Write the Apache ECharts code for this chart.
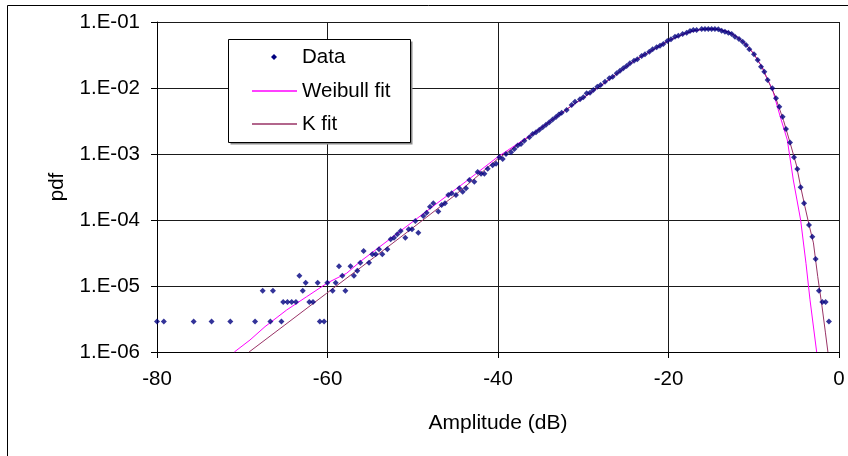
<!DOCTYPE html>
<html>
<head>
<meta charset="utf-8">
<script src="https://cdn.jsdelivr.net/npm/echarts@6/dist/echarts.min.js"></script>
<style>html,body{margin:0;padding:0;background:#fff}#c{width:848px;height:456px}</style>
</head>
<body>
<div id="c"></div>
<script>
// ---- data ----
const dataDb = [-80.0,-79.2,-75.7,-73.6,-71.4,-68.5,-67.6,-66.7,-66.4,-65.4,-65.2,-64.7,-64.2,-63.7,-63.3,-62.9,-62.56,-62.13,-61.7,-61.15,-60.9,-60.4,-60.02,-59.4,-59.04,-58.65,-58.26,-57.9,-57.3,-56.9,-56.5,-56.15,-55.76,-55.13,-54.74,-54.35,-53.96,-53.57,-52.98,-52.59,-52.2,-51.81,-51.42,-50.87,-50.48,-50.09,-49.7,-49.35,-48.76,-48.37,-47.98,-47.59,-47.0,-46.61,-46.22,-45.83,-45.43,-44.93,-44.54,-44.14,-43.75,-43.36,-42.78,-42.38,-41.99,-41.6,-41.21,-40.63,-40.23,-39.84,-39.45,-39.06,-38.47,-38.08,-37.69,-37.3,-36.91,-36.32,-35.93,-35.54,-35.15,-34.76,-34.37,-33.98,-33.59,-33.2,-32.85,-32.53,-31.95,-31.36,-30.97,-30.38,-29.99,-29.6,-29.21,-28.82,-28.35,-27.96,-27.45,-26.94,-26.55,-26.08,-25.69,-25.3,-24.91,-24.52,-24.05,-23.66,-23.15,-22.76,-22.25,-21.86,-21.39,-21.0,-20.61,-20.14,-19.71,-19.24,-18.85,-18.34,-17.87,-17.48,-17.09,-16.7,-16.11,-15.72,-15.33,-14.94,-14.55,-14.16,-13.77,-13.38,-12.98,-12.59,-12.2,-11.73,-11.3,-10.91,-10.52,-9.97,-9.54,-9.15,-8.76,-8.37,-7.82,-7.39,-7.0,-6.61,-6.22,-5.75,-5.28,-4.89,-4.5,-4.1,-3.52,-3.13,-2.74,-2.35,-1.96,-1.57,-1.18];
const dataPdf = [2.9e-6,2.9e-6,2.9e-6,2.9e-6,2.9e-6,2.9e-6,8.5e-6,2.9e-6,8.5e-6,2.9e-6,5.7e-6,5.7e-6,5.7e-6,5.7e-6,1.43e-5,8.5e-6,1.12e-5,5.7e-6,5.7e-6,1.12e-5,2.9e-6,2.9e-6,1.12e-5,8.5e-6,1.12e-5,2.0e-5,1.43e-5,8.5e-6,2.0e-5,1.43e-5,1.7e-5,2.26e-5,3.39e-5,2.26e-5,3.02e-5,3.02e-5,3.6e-5,3.02e-5,3.6e-5,5.09e-5,5.4e-5,6.07e-5,6.8e-5,5.4e-5,7.22e-5,7.22e-5,9.66e-5,6.43e-5,1.15e-4,1.29e-4,1.59e-4,1.79e-4,1.34e-4,1.69e-4,1.79e-4,2.39e-4,2.54e-4,2.39e-4,3.02e-4,2.69e-4,3.02e-4,4.04e-4,3.81e-4,5.34e-4,5.04e-4,5.04e-4,6.0e-4,6.73e-4,7.14e-4,8.9e-4,8.4e-4,1.0e-3,1.06e-3,1.19e-3,1.34e-3,1.42e-3,1.59e-3,1.79e-3,2.01e-3,2.13e-3,2.33e-3,2.54e-3,2.78e-3,3.03e-3,3.32e-3,3.63e-3,3.96e-3,4.23e-3,4.65e-3,5.53e-3,6.21e-3,6.73e-3,7.23e-3,8.3e-3,8.49e-3,9.33e-3,1.047e-2,1.11e-2,1.247e-2,1.403e-2,1.486e-2,1.667e-2,1.832e-2,1.986e-2,2.158e-2,2.366e-2,2.594e-2,2.723e-2,3.055e-2,3.236e-2,3.556e-2,3.855e-2,4.13e-2,4.385e-2,4.645e-2,5.152e-2,5.47e-2,6.0e-2,6.21e-2,6.58e-2,6.9e-2,7.31e-2,7.57e-2,7.57e-2,7.83e-2,7.83e-2,7.83e-2,7.83e-2,7.83e-2,7.74e-2,7.4e-2,7.14e-2,6.9e-2,6.58e-2,6.0e-2,5.53e-2,5.04e-2,4.49e-2,3.85e-2,3.24e-2,2.65e-2,2.1e-2,1.77e-2,1.32e-2,9.9e-3,6.98e-3,5.21e-3,3.68e-3,2.39e-3,1.49e-3,8.9e-4,5.93e-4,3.13e-4,1.79e-4,8.4e-5,5.58e-5,2.56e-5,8.5e-6,5.7e-6,5.7e-6,2.9e-6];

const weibullDb  = [-70.93,-69.09,-67.33,-64.79,-62.44,-59.98,-57.75,-56.19,-52,-48,-44,-40,-36,-32,-28,-24,-20,-19,-18,-17,-16,-15,-14,-13,-12,-11,-10,-9,-8.5,-7.8,-6.9,-6.06,-5.36,-4.5,-3.87,-3.4,-2.62];
const weibullPdf = [1e-6,1.52e-6,2.42e-6,4.33e-6,6.89e-6,1.12e-5,1.56e-5,2.33e-5,6.0e-5,1.48e-4,3.63e-4,9.1e-4,2.0e-3,4.7e-3,1.07e-2,2.6e-2,5.2e-2,5.95e-2,6.75e-2,7.35e-2,7.75e-2,7.85e-2,7.7e-2,7.1e-2,6.0e-2,4.7e-2,3.3e-2,2.05e-2,1.45e-2,9.5e-3,3.7e-3,1.63e-3,4.04e-4,1.0e-4,2.19e-5,6.17e-6,1e-6];

const kDb  = [-69.2,-65,-60.1,-55.21,-50,-45,-40,-36,-32,-28,-24,-20,-19,-18,-17,-16,-15,-14,-13,-12,-11,-10,-9,-8.5,-7.5,-6.5,-5.75,-5,-4.5,-4,-3.5,-3,-2.5,-2,-1.6,-1.3];
const kPdf = [1e-6,2.57e-6,7.76e-6,2.33e-5,7.6e-5,2.4e-4,8.5e-4,1.95e-3,4.7e-3,1.07e-2,2.6e-2,5.2e-2,5.95e-2,6.75e-2,7.35e-2,7.75e-2,7.85e-2,7.7e-2,7.1e-2,6.0e-2,4.7e-2,3.3e-2,2.05e-2,1.45e-2,7.6e-3,3.2e-3,1.5e-3,6.8e-4,3.2e-4,1.6e-4,8.3e-5,4.5e-5,1.4e-5,5.0e-6,2.0e-6,1e-6];

const xTicks = [-80,-60,-40,-20,0];
const xTickLabels = ['-80','-60','-40','-20','0'];
const yTicks = [1e-6,1e-5,1e-4,1e-3,1e-2,1e-1];
const yTickLabels = ['1.E-06','1.E-05','1.E-04','1.E-03','1.E-02','1.E-01'];
const seriesNames = ['Data','Weibull fit','K fit'];
const seriesColors = ['#000080','#ff00ff','#993366'];
const xTitle = 'Amplitude (dB)';
const yTitle = 'pdf';

// ---- chart ----
const FONT = '"Liberation Sans", Arial, sans-serif';
const zip = (a,b) => a.map((v,i)=>[v,b[i]]);
const chart = echarts.init(document.getElementById('c'), null, {renderer:'canvas'});

// legend box drawn as graphic (Excel style: box with shadow)
const LX = 228.5, LY = 39.5, LW = 182, LH = 103;
const rowY = [57, 91, 124];
const legendGraphics = [
  {id:'lg_shadow', type:'rect', shape:{x:LX+2, y:LY+2, width:LW, height:LH}, style:{fill:'#8c8c8c'}, silent:true, z:10},
  {id:'lg_box', type:'rect', shape:{x:LX, y:LY, width:LW, height:LH}, style:{fill:'#fff', stroke:'#000', lineWidth:1}, silent:true, z:11},
  {id:'lg_m0', type:'polygon', shape:{points:[[274,rowY[0]-3],[277,rowY[0]],[274,rowY[0]+3],[271,rowY[0]]]}, style:{fill:seriesColors[0]}, silent:true, z:12},
  {id:'lg_m1', type:'rect', shape:{x:252, y:rowY[1]-0.75, width:45, height:1.5}, style:{fill:seriesColors[1]}, silent:true, z:12},
  {id:'lg_m2', type:'rect', shape:{x:252, y:rowY[2]-0.75, width:45, height:1.5}, style:{fill:seriesColors[2]}, silent:true, z:12}
];
seriesNames.forEach((n,i)=>{
  legendGraphics.push({id:'lg_t'+i, type:'text', x:302, y:rowY[i], style:{text:n, fill:'#000', font:'20.5px '+FONT, verticalAlign:'middle'}, silent:true, z:12});
});

chart.setOption({
  animation:false,
  backgroundColor:'#fff',
  textStyle:{fontFamily:FONT, color:'#000'},
  grid:{left:157, right:9, top:22, bottom:104, containLabel:false},
  graphic:[{id:'outer', type:'rect', shape:{x:7.5,y:5.5,width:1000,height:1000}, style:{fill:'none', stroke:'#000', lineWidth:1}, silent:true, z:-1}].concat(legendGraphics),
  xAxis:{
    type:'value', min:-80, max:0, interval:20,
    name:xTitle, nameLocation:'middle', nameGap:61,
    nameTextStyle:{fontFamily:FONT, fontSize:21, color:'#000'},
    axisLine:{show:true, onZero:false, lineStyle:{color:'#000', width:1}},
    axisTick:{show:true, length:6, inside:false, lineStyle:{color:'#000'}},
    axisLabel:{margin:17, fontFamily:FONT, fontSize:20.5, color:'#000',
      formatter:v=>{const i=xTicks.indexOf(Math.round(v)); return i>=0?xTickLabels[i]:'';}},
    splitLine:{show:true, lineStyle:{color:'#1a1a1a', width:1}}
  },
  yAxis:{
    type:'log', logBase:10, min:1e-6, max:1e-1,
    name:yTitle, nameLocation:'middle', nameGap:89, nameRotate:90,
    nameTextStyle:{fontFamily:FONT, fontSize:20.5, color:'#000'},
    axisLine:{show:true, onZero:false, lineStyle:{color:'#000', width:1}},
    axisTick:{show:true, length:6, inside:false, lineStyle:{color:'#000'}},
    axisLabel:{margin:17, fontFamily:FONT, fontSize:20.5, color:'#000',
      formatter:v=>{const e=Math.round(Math.log10(v)); const i=yTicks.findIndex(t=>Math.round(Math.log10(t))===e); return i>=0?yTickLabels[i]:'';}},
    splitLine:{show:true, lineStyle:{color:'#1a1a1a', width:1}},
    minorTick:{show:false}
  },
  series:[
    {name:seriesNames[1], type:'line', data:zip(weibullDb,weibullPdf), showSymbol:false, symbol:'none',
     lineStyle:{color:seriesColors[1], width:1}, itemStyle:{color:seriesColors[1]}, z:2, clip:true},
    {name:seriesNames[2], type:'line', data:zip(kDb,kPdf), showSymbol:false, symbol:'none',
     lineStyle:{color:seriesColors[2], width:1}, itemStyle:{color:seriesColors[2]}, z:3, clip:true},
    {name:seriesNames[0], type:'scatter', data:zip(dataDb,dataPdf), symbol:'diamond', symbolSize:6,
     itemStyle:{color:seriesColors[0]}, z:4}
  ]
});
</script>
</body>
</html>
